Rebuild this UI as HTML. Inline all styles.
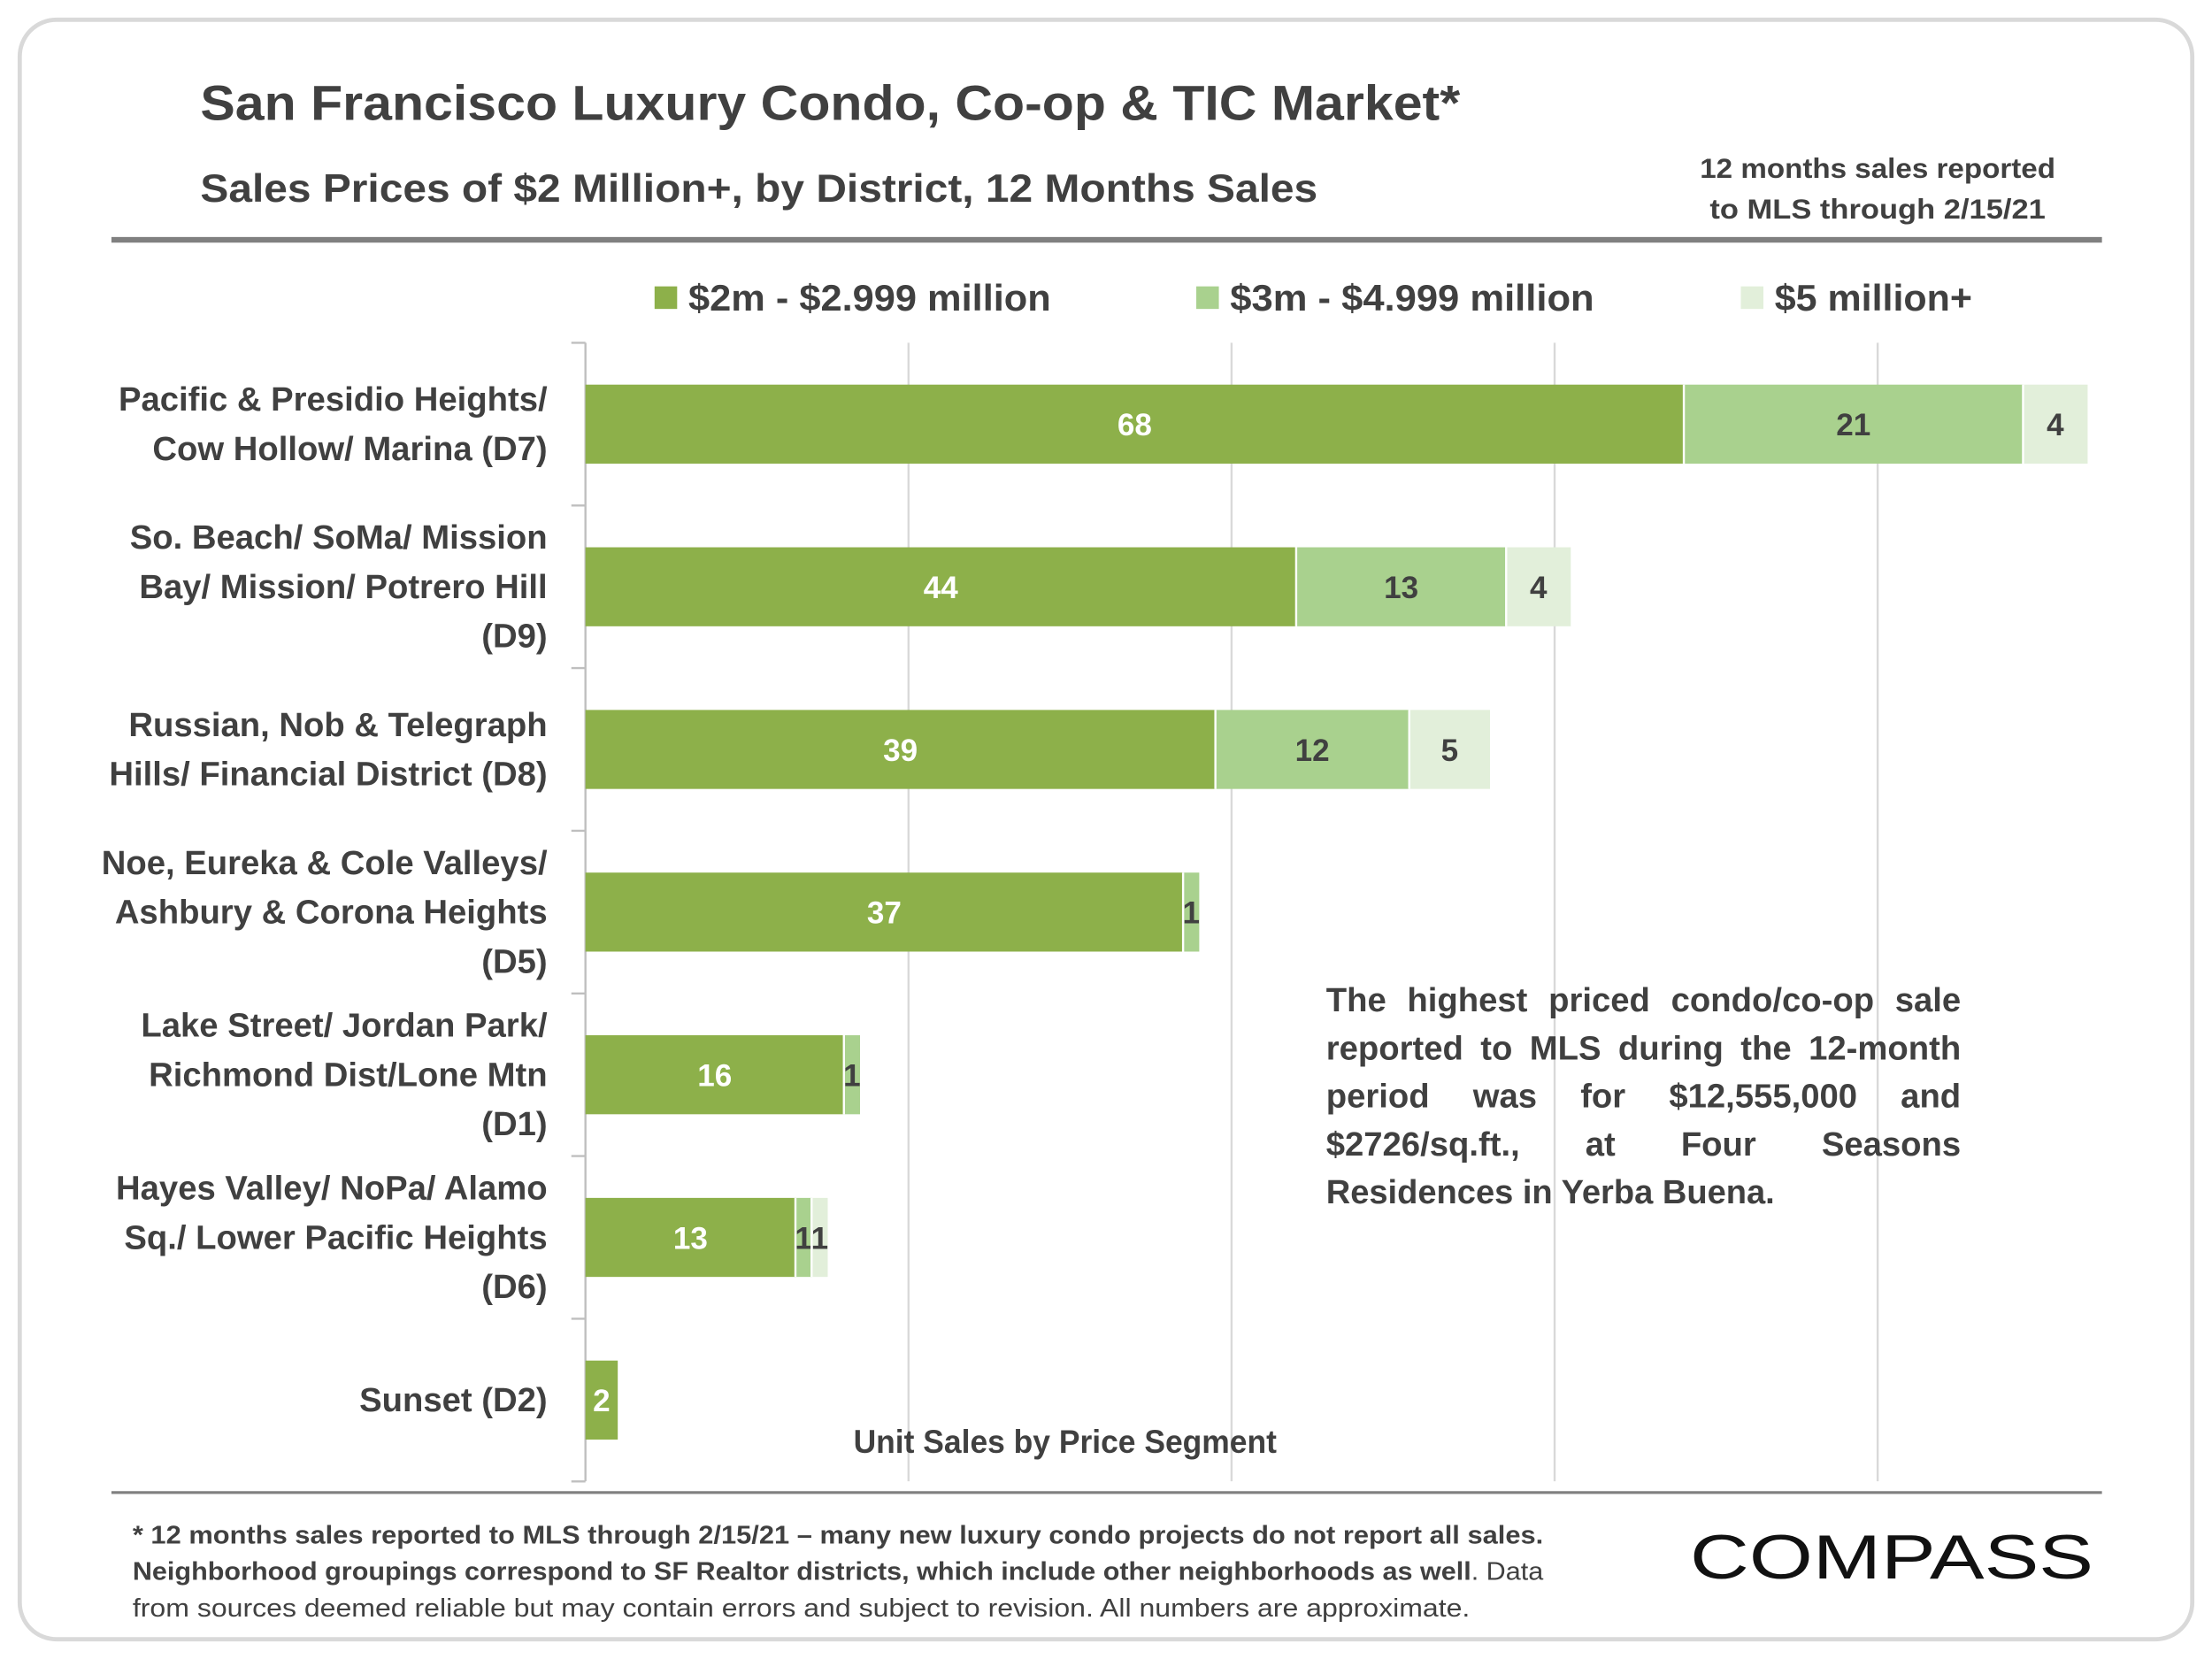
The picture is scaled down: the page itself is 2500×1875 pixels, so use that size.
<!DOCTYPE html>
<html><head><meta charset="utf-8"><style>
html,body{margin:0;padding:0;background:#fff}
svg{display:block}
text{font-family:"Liberation Sans",sans-serif}
</style></head><body>
<svg id="chart" width="2500" height="1875" viewBox="0 0 1568 1176" xmlns="http://www.w3.org/2000/svg">
<rect x="14" y="14" width="1540" height="1148" rx="26" fill="#fff" stroke="#d9d9d9" stroke-width="3"/>
<text x="142" y="85" font-size="35" font-weight="bold" fill="#404040" textLength="893" lengthAdjust="spacingAndGlyphs">San Francisco Luxury Condo, Co-op &amp; TIC Market*</text>
<text x="142" y="143" font-size="28" font-weight="bold" fill="#404040" textLength="792" lengthAdjust="spacingAndGlyphs">Sales Prices of $2 Million+, by District, 12 Months Sales</text>
<text x="1331" y="126" font-size="20" font-weight="bold" fill="#404040" text-anchor="middle" textLength="252" lengthAdjust="spacingAndGlyphs">12 months sales reported</text>
<text x="1331" y="155" font-size="20" font-weight="bold" fill="#404040" text-anchor="middle" textLength="238" lengthAdjust="spacingAndGlyphs">to MLS through 2/15/21</text>
<rect x="79" y="168" width="1411" height="4" fill="#808080"/>
<g>
<rect x="464" y="203" width="16" height="16" fill="#8db04a"/>
<text x="488" y="220" font-size="26" font-weight="bold" fill="#404040" textLength="257" lengthAdjust="spacingAndGlyphs">$2m - $2.999 million</text>
<rect x="848" y="203" width="16" height="16" fill="#a9d18e"/>
<text x="872" y="220" font-size="26" font-weight="bold" fill="#404040" textLength="258" lengthAdjust="spacingAndGlyphs">$3m - $4.999 million</text>
<rect x="1234" y="203" width="16" height="16" fill="#e2efda"/>
<text x="1258" y="220" font-size="26" font-weight="bold" fill="#404040" textLength="140" lengthAdjust="spacingAndGlyphs">$5 million+</text>
</g>
<g id="grid"></g>
<g id="bars"></g>
<g id="cats"></g>
<text x="755" y="1030" font-size="23" font-weight="bold" fill="#404040" text-anchor="middle" textLength="300" lengthAdjust="spacingAndGlyphs">Unit Sales by Price Segment</text>
<g id="annot" font-size="24" font-weight="bold" fill="#404040">
<text x="940" y="717">The highest priced condo/co-op sale</text>
<text x="940" y="751">reported to MLS during the 12-month</text>
<text x="940" y="785">period was for $12,555,000 and</text>
<text x="940" y="819">$2726/sq.ft., at Four Seasons</text>
<text x="940" y="853" textLength="318" lengthAdjust="spacingAndGlyphs">Residences in Yerba Buena.</text>
</g>
<rect x="79" y="1057" width="1411" height="2" fill="#808080"/>
<g font-size="18" fill="#404040">
<text x="94" y="1094" font-weight="bold" textLength="1000" lengthAdjust="spacingAndGlyphs">* 12 months sales reported to MLS through 2/15/21 – many new luxury condo projects do not report all sales.</text>
<text x="94" y="1120" textLength="1000" lengthAdjust="spacingAndGlyphs"><tspan font-weight="bold">Neighborhood groupings correspond to SF Realtor districts, which include other neighborhoods as well</tspan>. Data</text>
<text x="94" y="1146" textLength="948" lengthAdjust="spacingAndGlyphs">from sources deemed reliable but may contain errors and subject to revision. All numbers are approximate.</text>
</g>
<text x="1198" y="1119" font-size="44" fill="#111" textLength="286" lengthAdjust="spacingAndGlyphs">COMPASS</text>
</svg>
<script>
const categories=[["Pacific & Presidio Heights/","Cow Hollow/ Marina (D7)"],["So. Beach/ SoMa/ Mission","Bay/ Mission/ Potrero Hill","(D9)"],["Russian, Nob & Telegraph","Hills/ Financial District (D8)"],["Noe, Eureka & Cole Valleys/","Ashbury & Corona Heights","(D5)"],["Lake Street/ Jordan Park/","Richmond Dist/Lone Mtn","(D1)"],["Hayes Valley/ NoPa/ Alamo","Sq./ Lower Pacific Heights","(D6)"],["Sunset (D2)"]];
const seg2m=[68,44,39,37,16,13,2];
const seg3m=[21,13,12,1,1,1,0];
const seg5m=[4,4,5,0,0,1,0];
const gridTicks=[20,40,60,80];
const NS="http://www.w3.org/2000/svg";
const x0=415,unit=229/20,topY=243,band=115.3;
const xs=v=>x0+v*unit;
const yc=i=>topY+band*(i+0.5);
function mk(t,a,p){const e=document.createElementNS(NS,t);for(const k in a)e.setAttribute(k,a[k]);p.appendChild(e);return e;}
const grid=document.getElementById('grid'),bars=document.getElementById('bars'),cats=document.getElementById('cats');
gridTicks.forEach(g=>{const l=mk('line',{x1:xs(g),x2:xs(g),y1:topY,y2:1050,stroke:'#d9d9d9','stroke-width':1.5},grid);

});
const ax=mk('line',{x1:x0,x2:x0,y1:topY,y2:1050,stroke:'#bfbfbf','stroke-width':1.5},grid);


for(let i=0;i<=categories.length;i++){const t=mk('line',{x1:x0-10,x2:x0,y1:topY+band*i,y2:topY+band*i,stroke:'#bfbfbf','stroke-width':1.5},grid);

}
const series=[[seg2m,'#8db04a','#fff'],[seg3m,'#a9d18e','#404040'],[seg5m,'#e2efda','#404040']];
categories.forEach((c,i)=>{
  let acc=0;
  series.forEach(([arr,col,tc],s)=>{
    const v=arr[i];if(v<=0)return;
    const r=mk('rect',{x:xs(acc),y:yc(i)-28,width:xs(acc+v)-xs(acc),height:56,fill:col},bars);
    
    
    if(s>0){mk('line',{x1:xs(acc),x2:xs(acc),y1:yc(i)-28,y2:yc(i)+28,stroke:'#fff','stroke-width':1.5},bars);}
    const t=mk('text',{x:(xs(acc)+xs(acc+v))/2,y:yc(i)+8,'font-size':22,'font-weight':'bold',fill:tc,'text-anchor':'middle'},bars);
    t.textContent=v;
    
    
    acc+=v;
  });
  const n=c.length,lh=35;
  const y0=yc(i)-(n-1)*lh/2+8;
  c.forEach((line,j)=>{const t=mk('text',{x:388,y:y0+j*lh,'font-size':24,'font-weight':'bold',fill:'#404040','text-anchor':'end'},cats);
    t.textContent=line;
    
    });
});
// justify annotation lines (word spacing)
const annot=document.getElementById('annot');
[...annot.querySelectorAll('text')].slice(0,4).forEach(t=>{
  const words=t.textContent.split(' ');const y=t.getAttribute('y');
  t.textContent='';
  const parts=words.map(w=>{const s=mk('text',{x:0,y:y},annot);s.textContent=w;return s;});
  const widths=parts.map(p=>p.getComputedTextLength());
  const total=widths.reduce((a,b)=>a+b,0);
  const gap=(450-total)/(words.length-1);
  let x=940;parts.forEach((p,k)=>{p.setAttribute('x',x);x+=widths[k]+gap;});
  t.remove();
});
</script>
</body></html>
